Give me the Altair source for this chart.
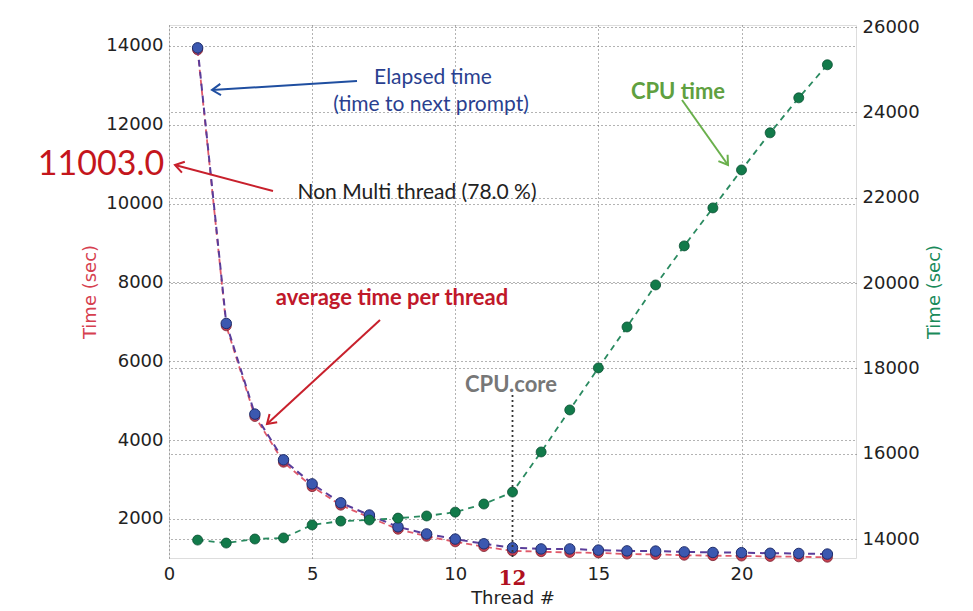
import math
import altair as alt
import pandas as pd

# ---------------- data ----------------
threads = list(range(1, 24))
elapsed = [13950, 6960, 4660, 3500, 2890, 2410, 2100, 1800, 1620, 1490, 1370, 1270,
           1240, 1240, 1210, 1190, 1185, 1165, 1150, 1145, 1130, 1125, 1110]
average = [13900, 6900, 4600, 3440, 2820, 2350, 2040, 1740, 1560, 1420, 1300, 1190,
           1170, 1150, 1140, 1110, 1100, 1080, 1070, 1060, 1050, 1040, 1030]
cpu = [13975, 13905, 14000, 14025, 14330, 14420, 14445, 14490, 14540, 14630, 14820, 15100,
       16040, 17025, 18010, 18970, 19955, 20870, 21760, 22650, 23520, 24340, 25115]
left_ticks = [2000, 4000, 6000, 8000, 10000, 12000, 14000]
right_ticks = [14000, 16000, 18000, 20000, 22000, 24000, 26000]
x_ticks = [0, 5, 10, 15, 20]
cpu_core = [12]

W, H = 687, 533
df = pd.DataFrame({"thread": threads, "elapsed": elapsed, "average": average, "cpu": cpu})

LABEL_FONT = "DejaVu Sans"
ANN_FONT = "Lato"

x_enc = alt.X(
    "thread:Q",
    scale=alt.Scale(domain=[0, 24], nice=False, zero=False),
    axis=alt.Axis(values=x_ticks, format="d", title="Thread #", labelFlush=False, grid=True,
                  gridDash=[1, 3], gridColor="#666", gridWidth=1, ticks=False,
                  domain=False, labelPadding=7, titlePadding=6, labelFontSize=18,
                  titleFontSize=18, labelFont=LABEL_FONT, titleFont=LABEL_FONT,
                  titleFontWeight="normal", labelColor="#222", titleColor="#222"),
)

left_scale = alt.Scale(domain=[1010, 14530], nice=False, zero=False)
left_axis = alt.Axis(values=left_ticks, format="d", title="Time (sec)", orient="left", labelFlush=False,
                     grid=True, gridDash=[1, 3], gridColor="#666", gridWidth=1, ticks=False,
                     domain=False, labelPadding=6, titleX=-79, titleY=H / 2, titleAngle=270,
                     titleAlign="center", titleBaseline="middle", labelFontSize=18,
                     titleFontSize=18, labelFont=LABEL_FONT, titleFont=LABEL_FONT,
                     titleFontWeight="normal", labelColor="#222", titleColor="#d6404f")
right_scale = alt.Scale(domain=[13555, 26047], nice=False, zero=False)
right_axis = alt.Axis(values=right_ticks, format="d", title="Time (sec)", orient="right", labelFlush=False,
                      grid=True, gridDash=[1, 3], gridColor="#666", gridWidth=1, ticks=False,
                      domain=False, labelPadding=6, titleX=78, titleY=H / 2, titleAngle=270,
                      titleAlign="center", titleBaseline="middle", labelFontSize=18,
                      titleFontSize=18, labelFont=LABEL_FONT, titleFont=LABEL_FONT,
                      titleFontWeight="normal", labelColor="#222", titleColor="#1a8a5a")

base = alt.Chart(df)

def ly(field):
    return alt.Y(f"{field}:Q", scale=left_scale, axis=left_axis)

red_line = base.mark_line(color="#e05a6a", strokeDash=[6, 4], strokeWidth=1.8).encode(x=x_enc, y=ly("average"))
red_pts = base.mark_circle(size=100, color="#c8404f", opacity=1, stroke="#7a2030", strokeWidth=0.8).encode(x=x_enc, y=ly("average"))
blue_line = base.mark_line(color="#5a3d9a", strokeDash=[7, 5], strokeWidth=2).encode(x=x_enc, y=ly("elapsed"))
blue_pts = base.mark_circle(size=110, color="#3b58b0", opacity=1, stroke="#1e2c6a", strokeWidth=1).encode(x=x_enc, y=ly("elapsed"))

core_df = pd.DataFrame({"thread": cpu_core, "lab": [str(v) for v in cpu_core]})
core_rule = alt.Chart(core_df).mark_rule(strokeDash=[2, 3], color="#333", strokeWidth=1.8).encode(
    x=x_enc, y=alt.value(370), y2=alt.value(H))
core_lab = alt.Chart(core_df).mark_text(font="DejaVu Serif", fontSize=20, fontWeight="bold",
                                        color="#b01020", baseline="middle").encode(
    x=x_enc, y=alt.value(554), text="lab:N")

left = alt.layer(red_line, red_pts, blue_line, blue_pts, core_rule, core_lab)

green_line = base.mark_line(color="#2a8a60", strokeDash=[6, 5], strokeWidth=1.8).encode(
    x=x_enc, y=alt.Y("cpu:Q", scale=right_scale, axis=right_axis))
green_pts = base.mark_circle(size=100, color="#127a4a", opacity=1, stroke="#0b5034", strokeWidth=0.8).encode(
    x=x_enc, y=alt.Y("cpu:Q", scale=right_scale, axis=right_axis))
right = alt.layer(green_line, green_pts)

one = pd.DataFrame({"a": [0]})

def txt(s, px, py, color, size, weight="normal", font=ANN_FONT):
    return alt.Chart(one).mark_text(text=s, font=font, fontSize=size, fontWeight=weight,
                                    color=color, align="center", baseline="middle").encode(
        x=alt.value(px), y=alt.value(py))

ARROW = "M-1,-0.65L0,0L-1,0.65"

def arrow(x1, y1, x2, y2, color):
    ang = math.degrees(math.atan2(y2 - y1, x2 - x1)) % 360
    line = alt.Chart(one).mark_rule(color=color, strokeWidth=2).encode(
        x=alt.value(x1), y=alt.value(y1), x2=alt.value(x2), y2=alt.value(y2))
    head = alt.Chart(one).mark_point(shape=ARROW, angle=ang, size=300, filled=False,
                                     stroke=color, strokeWidth=2, opacity=1).encode(
        x=alt.value(x2), y=alt.value(y2))
    return [line, head]

annots = []
annots += arrow(188, 56, 43, 65, "#1f4ea0")
annots += arrow(104, 166, 6, 140, "#c8202c")
annots += arrow(211, 295, 98, 399, "#c8202c")
annots += arrow(513, 75, 559, 140, "#6ab04c")
annots += [
    txt("Elapsed time", 264, 53, "#2a3f8f", 21),
    txt("(time to next prompt)", 262, 80, "#2a3f8f", 21),
    txt("Non Multi thread (78.0 %)", 248, 168, "#222222", 21),
    txt("11003.0", -68, 140, "#c4161c", 34),
    txt("average time per thread", 223, 273, "#c0182a", 22, "bold"),
    txt("CPU time", 509, 67, "#5fa040", 22, "bold"),
    txt("CPU.core", 342, 360, "#777777", 22, "bold"),
]

chart = alt.layer(left, right, *annots).resolve_scale(y="independent").properties(
    width=W, height=H,
    padding={"left": 169, "top": 25, "right": 117, "bottom": 53},
    autosize=alt.AutoSizeParams(type="none"),
).configure_view(stroke="#111", strokeWidth=1.3).configure(background="white")

chart.save("out.html", embed_options={"renderer": "svg", "actions": False})
